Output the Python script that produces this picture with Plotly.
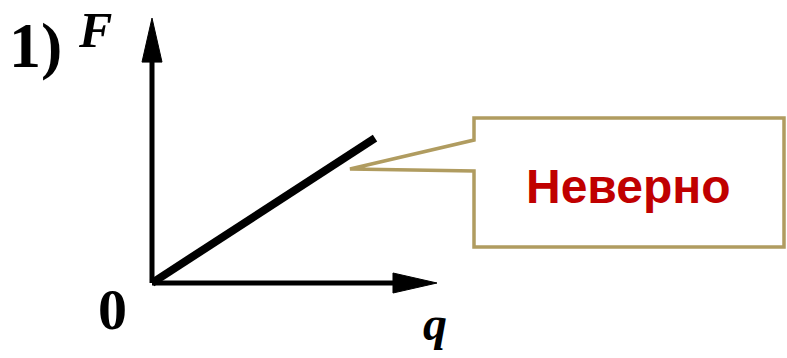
import plotly.graph_objects as go

# ---- data (diagram units: origin at 0, line reaches q=1) ----
line_q = [0.0, 1.0]
line_F = [0.0, 0.65]
q_axis_len = 1.278
F_axis_len = 1.188
label_text = "Неверно"
panel_label = "1)"

W, H = 787, 358
ox, oy, s = 152, 283, 223.0   # origin in pixels, px per unit
def X(px): return (px - ox) / s
def Y(py): return (oy - py) / s

fig = go.Figure()

fig.add_trace(go.Scatter(x=line_q, y=line_F, mode="lines",
                         line=dict(color="black", width=8), hoverinfo="skip",
                         showlegend=False))
fig.add_trace(go.Scatter(x=[0, q_axis_len - 0.12], y=[0, 0], mode="lines",
                         line=dict(color="black", width=5), hoverinfo="skip",
                         showlegend=False))
fig.add_trace(go.Scatter(x=[0, 0], y=[0, F_axis_len - 0.12], mode="lines",
                         line=dict(color="black", width=5), hoverinfo="skip",
                         showlegend=False))

shapes = []
ah_len, ah_half = 44 / s, 10 / s
shapes.append(dict(type="path", xref="x", yref="y",
                   path=f"M {q_axis_len} 0 L {q_axis_len-ah_len} {ah_half} L {q_axis_len-ah_len} {-ah_half} Z",
                   fillcolor="black", line=dict(color="black", width=1)))
shapes.append(dict(type="path", xref="x", yref="y",
                   path=f"M 0 {F_axis_len} L {ah_half} {F_axis_len-ah_len} L {-ah_half} {F_axis_len-ah_len} Z",
                   fillcolor="black", line=dict(color="black", width=1)))

bl, bt, br, bb = X(474), Y(118), X(784), Y(247)
p1, p2 = Y(140), Y(171)
tipx, tipy = X(350), Y(169)
callout = (f"M {bl} {bt} L {br} {bt} L {br} {bb} L {bl} {bb} L {bl} {p2} "
           f"L {tipx} {tipy} L {bl} {p1} Z")
shapes.append(dict(type="path", xref="x", yref="y", path=callout,
                   fillcolor="white", line=dict(color="#B09C60", width=3.5)))

annotations = [
    dict(x=X(628), y=Y(186), xref="x", yref="y", text=f"<b>{label_text}</b>",
         showarrow=False, font=dict(family="Liberation Sans", size=48, color="#C00000")),
    dict(x=X(35), y=Y(45), xref="x", yref="y", text=f"<b>{panel_label}</b>",
         showarrow=False, font=dict(family="Liberation Serif", size=64, color="black")),
    dict(x=X(95), y=Y(0.5), xref="x", yref="y", yanchor="top", borderpad=0,
         text="<b><i>F</i></b>",
         showarrow=False, font=dict(family="Liberation Serif", size=50, color="black")),
    dict(x=X(112), y=Y(309), xref="x", yref="y", text="<b>0</b>",
         showarrow=False, font=dict(family="Liberation Serif", size=58, color="black")),
    dict(x=X(435), y=Y(323), xref="x", yref="y", text="<b><i>q</i></b>",
         showarrow=False, font=dict(family="Liberation Serif", size=48, color="black")),
]

fig.update_layout(
    width=W, height=H, margin=dict(l=0, r=0, t=0, b=0),
    paper_bgcolor="white", plot_bgcolor="white",
    shapes=shapes, annotations=annotations,
    xaxis=dict(range=[X(0), X(W)], visible=False, fixedrange=True),
    yaxis=dict(range=[Y(H), Y(0)], visible=False, fixedrange=True),
)
fig.write_html("out.html", config={"displayModeBar": False},
               post_script="document.body.style.margin='0';document.body.style.overflow='hidden';")
